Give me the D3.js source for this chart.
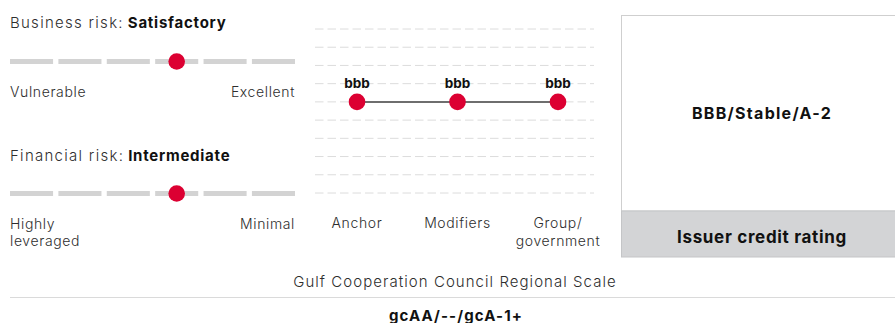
<!DOCTYPE html>
<html>
<head>
<meta charset="utf-8">
<script src="https://cdn.jsdelivr.net/npm/d3@7"></script>
<style>
  html, body { margin: 0; padding: 0; background: #fff; }
  svg { display: block; font-family: Inter, "Noto Sans", sans-serif; }
  .reg { fill: #2e2e2e; font-weight: 300; }
  .bold { fill: #111; font-weight: 700; }
</style>
</head>
<body>
<svg id="chart" width="895" height="323"></svg>
<script>
// ---- data ----
const businessScale = ["Vulnerable", "Weak", "Fair", "Satisfactory", "Strong", "Excellent"];
const businessValue = "Satisfactory";
const financialScale = ["Highly leveraged", "Aggressive", "Significant", "Intermediate", "Modest", "Minimal"];
const financialValue = "Intermediate";
const ratingLevels = ["a+", "a", "a-", "bbb+", "bbb", "bbb-", "bb+", "bb", "bb-", "b+"];
const steps = ["Anchor", "Modifiers", "Group/government"];
const stepLabels = [["Anchor"], ["Modifiers"], ["Group/", "government"]];
const stepValues = ["bbb", "bbb", "bbb"];
const issuerRating = "BBB/Stable/A-2";
const issuerLabel = "Issuer credit rating";
const regionalTitle = "Gulf Cooperation Council Regional Scale";
const regionalRating = "gcAA/--/gcA-1+";

// ---- drawing ----
(function () {
const svg = d3.select("#chart");
const RED = "#dc0032";

function riskPanel(title, value, scale, barY, titleY, labelY, leftLabel, rightLabel) {
  const g = svg.append("g");
  const x = d3.scaleBand().domain(scale).range([10, 295]).paddingInner(0.11).paddingOuter(0);
  const t = g.append("text").attr("x", 10).attr("y", titleY).attr("font-size", 15);
  t.append("tspan").attr("class", "reg").attr("letter-spacing", "0.085em").text(title + ":");
  t.append("tspan").attr("class", "bold").attr("dx", 4).attr("letter-spacing", "0.05em").text(value);
  g.selectAll("rect.seg").data(scale).join("rect").attr("class", "seg")
    .attr("x", d => x(d)).attr("y", barY - 2.5)
    .attr("width", x.bandwidth()).attr("height", 5)
    .attr("fill", "#d3d3d3");
  g.append("circle").attr("cx", x(value) + x.bandwidth() / 2).attr("cy", barY)
    .attr("r", 8.3).attr("fill", RED);
  const lt = g.append("text").attr("class", "reg").attr("x", 10).attr("y", labelY)
    .attr("font-size", 14).attr("letter-spacing", "0.045em");
  leftLabel.forEach((l, i) => lt.append("tspan").attr("x", 10).attr("dy", i ? 17 : 0).text(l));
  g.append("text").attr("class", "reg").attr("x", 295).attr("y", labelY).attr("text-anchor", "end")
    .attr("font-size", 14).attr("letter-spacing", "0.045em").text(rightLabel);
}

riskPanel("Business risk", businessValue, businessScale, 61.5, 28, 96.5, ["Vulnerable"], "Excellent");
riskPanel("Financial risk", financialValue, financialScale, 193.5, 161, 229, ["Highly", "leveraged"], "Minimal");

// middle chart
const mid = svg.append("g");
const y = d3.scalePoint().domain(ratingLevels).range([29, 193]);
const x = d3.scalePoint().domain(steps).range([357, 558]);
mid.selectAll("line.grid").data(ratingLevels).join("line").attr("class", "grid")
  .attr("x1", 315).attr("x2", 594)
  .attr("y1", d => y(d)).attr("y2", d => y(d))
  .attr("stroke", "#dcdcdc").attr("stroke-width", 1).attr("stroke-dasharray", "8.5,4");
const pts = steps.map((s, i) => ({ s, v: stepValues[i] }));
mid.append("path").datum(pts)
  .attr("d", d3.line().x(d => x(d.s)).y(d => y(d.v)))
  .attr("fill", "none").attr("stroke", "#6e6e6e").attr("stroke-width", 2);
mid.selectAll("circle").data(pts).join("circle")
  .attr("cx", d => x(d.s)).attr("cy", d => y(d.v)).attr("r", 8.3).attr("fill", RED);
mid.selectAll("text.val").data(pts).join("text").attr("class", "val bold")
  .attr("x", d => x(d.s)).attr("y", d => y(d.v) - 13.5)
  .attr("text-anchor", "middle").attr("font-size", 13.5)
  .text(d => d.v);
mid.selectAll("text.cat").data(steps).join("text").attr("class", "cat reg")
  .attr("x", d => x(d)).attr("y", 228).attr("text-anchor", "middle")
  .attr("font-size", 14).attr("letter-spacing", "0.045em")
  .each(function (d, i) {
    const t = d3.select(this);
    stepLabels[i].forEach((l, j) => t.append("tspan").attr("x", x(d)).attr("dy", j ? 17.5 : 0).text(l));
  });

// right box
const bx = 621.5, bw = 280, boxTop = 15.5, boxMid = 211, boxBottom = 257;
const box = svg.append("g");
box.append("rect").attr("x", bx).attr("y", boxTop).attr("width", bw).attr("height", boxMid - boxTop)
  .attr("fill", "#fff").attr("stroke", "#cfcfcf");
box.append("rect").attr("x", bx).attr("y", boxMid).attr("width", bw).attr("height", boxBottom - boxMid)
  .attr("fill", "#d3d4d6").attr("stroke", "#c4c5c7");
box.append("text").attr("class", "bold").attr("x", 762).attr("y", 119).attr("text-anchor", "middle")
  .attr("font-size", 16).attr("letter-spacing", "0.08em").text(issuerRating);
box.append("text").attr("class", "bold").attr("x", 762).attr("y", 242.5).attr("text-anchor", "middle")
  .attr("font-size", 17).attr("letter-spacing", "0.04em").text(issuerLabel);

// bottom
svg.append("text").attr("class", "reg").attr("x", 455).attr("y", 286.5).attr("text-anchor", "middle")
  .attr("font-size", 15).attr("letter-spacing", "0.07em").text(regionalTitle);
svg.append("line").attr("x1", 10).attr("x2", 895).attr("y1", 297.5).attr("y2", 297.5)
  .attr("stroke", "#dadada").attr("stroke-width", 1.2);
svg.append("text").attr("class", "bold").attr("x", 456).attr("y", 321).attr("text-anchor", "middle")
  .attr("font-size", 15).attr("letter-spacing", "0.075em").text(regionalRating);
})();
</script>
</body>
</html>
